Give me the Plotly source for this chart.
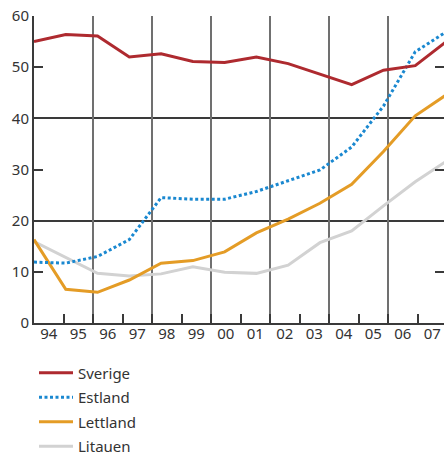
import plotly.graph_objects as go

# Year labels (1994-2007) and the four series, one value per year
years = ["94", "95", "96", "97", "98", "99", "00", "01", "02", "03", "04", "05", "06", "07"]
sverige = [55.0, 56.4, 56.1, 52.0, 52.6, 51.1, 50.9, 52.0, 50.7, 48.6, 46.6, 49.4, 50.3, 55.1]
estland = [11.9, 11.7, 13.0, 16.3, 24.5, 24.2, 24.2, 25.7, 27.8, 29.9, 34.4, 42.4, 53.0, 57.0]
lettland = [16.3, 6.6, 6.0, 8.4, 11.7, 12.2, 13.9, 17.6, 20.3, 23.4, 27.1, 33.5, 40.5, 44.7]
litauen = [15.9, 12.8, 9.7, 9.2, 9.6, 11.0, 9.9, 9.7, 11.3, 15.7, 18.0, 22.9, 27.6, 31.7]

n = len(years)
pos = list(range(n))            # points run edge to edge
span = n - 1
bin_w = span / n                # each year label owns one bin
centers = [(k + 0.5) * bin_w for k in range(n)]
bounds = [k * bin_w for k in range(1, n)]
grid_bounds = bounds[1::2]
x_range = [0, span * 410 / 413]

FONT = "Noto Sans"
TXT = "#333333"

fig = go.Figure()
series = [
    ("Litauen", litauen, "#d2d2d2", "solid", 4),
    ("Lettland", lettland, "#e49c26", "solid", 3),
    ("Estland", estland, "#1a88d0", "3px,2.5px", 2),
    ("Sverige", sverige, "#ae2a2f", "solid", 1),
]
for name, vals, color, dash, rank in series:
    fig.add_trace(go.Scatter(
        x=pos, y=vals, name=name, mode="lines", legendrank=rank,
        legendgroup=name,
        line=dict(color=color, width=3, dash=dash),
    ))

# overlay axis carrying the year labels
fig.add_trace(go.Scatter(x=[], y=[], xaxis="x2", showlegend=False, hoverinfo="skip"))

fig.update_layout(
    width=444, height=455,
    margin=dict(l=34, r=0, t=16, b=132, autoexpand=False),
    paper_bgcolor="white", plot_bgcolor="white",
    font=dict(family=FONT, size=15, color=TXT),
    showlegend=True,
    legend=dict(
        orientation="v", x=0, xanchor="left", y=-0.109, yanchor="top",
        font=dict(family=FONT, size=15, color=TXT),
        bgcolor="rgba(0,0,0,0)", tracegroupgap=2, itemwidth=34,
    ),
    xaxis=dict(
        range=x_range, tickmode="array", tickvals=grid_bounds,
        showticklabels=False, ticks="",
        showgrid=True, gridcolor="#707070", gridwidth=2,
        showline=True, linecolor="#3a3a3a", linewidth=2, mirror=False,
        zeroline=False,
        minor=dict(tickmode="array", tickvals=bounds, ticks="inside",
                   ticklen=9, tickwidth=2, tickcolor="#3a3a3a", showgrid=False),
    ),
    xaxis2=dict(
        overlaying="x", side="bottom", range=x_range,
        tickmode="array", tickvals=centers, ticktext=years, ticks="",
        showgrid=False, showline=False, zeroline=False,
        tickfont=dict(family=FONT, size=15, color=TXT),
    ),
    yaxis=dict(
        range=[0, 60], tickmode="array", tickvals=[0, 10, 20, 30, 40, 50, 60],
        ticks="inside", ticklen=9, tickwidth=2, tickcolor="#3a3a3a",
        showline=True, linecolor="#3a3a3a", linewidth=2, mirror="ticks",
        showgrid=False, zeroline=False,
        tickfont=dict(family=FONT, size=15, color=TXT),
        minor=dict(tickmode="array", tickvals=[20, 40, 60], ticks="",
                   showgrid=True, gridcolor="#3a3a3a", gridwidth=1.5),
    ),
)

fig.write_html("out.html")
